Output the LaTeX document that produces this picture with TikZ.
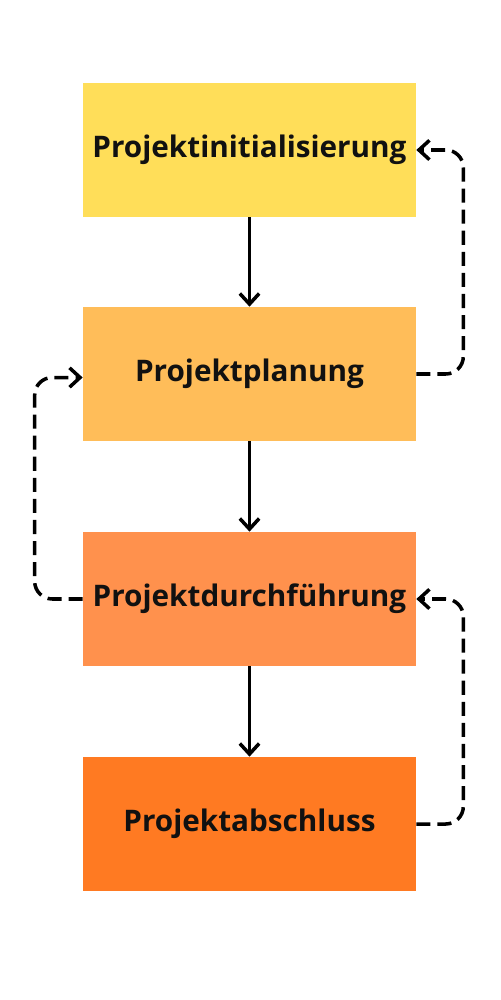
\documentclass[tikz,border=0pt]{standalone}
\usepackage{fontspec}
\setmainfont{Open Sans}
\usepackage{tikz}
\usetikzlibrary{arrows.meta}
\usepackage{xcolor}

\definecolor{phase1}{HTML}{FFDE59}
\definecolor{phase2}{HTML}{FFBD59}
\definecolor{phase3}{HTML}{FF914D}
\definecolor{phase4}{HTML}{FF7A22}
\definecolor{ink}{HTML}{111111}

\begin{document}
\begin{tikzpicture}[x=0.02cm, y=-0.02cm,
    phase/.style={rectangle, inner sep=0pt, minimum width=6.66cm, minimum height=2.68cm,
        font=\bfseries\fontsize{16.9}{19}\selectfont, text=ink},
    flow/.style={line width=2pt, -{Straight Barb[length=6pt, width=11pt, line width=2pt]}},
    back/.style={flow, dash pattern=on 8pt off 4pt, rounded corners=10pt}]

        % page frame
        \useasboundingbox[fill=white] (0,0) rectangle (500,1000);

        % the four phases, top to bottom
        \node[phase, fill=phase1] (init) at (249.5,150) {Projektinitialisierung};
        \node[phase, fill=phase2] (plan) at (249.5,374) {Projektplanung};
        \node[phase, fill=phase3] (exec) at (249.5,599) {Projektdurchführung};
        \node[phase, fill=phase4] (close) at (249.5,824) {Projektabschluss};

        % main flow
        \draw[flow] (init) -- (plan);
        \draw[flow] (plan) -- (exec);
        \draw[flow] (exec) -- (close);

        % feedback loops
        \draw[back] (plan.east) -- ++(47,0) |- (init.east);
        \draw[back] (exec.west) -- ++(-48,0) |- ([yshift=-2]plan.west);
        \draw[back] (close.east) -- ++(47,0) |- (exec.east);

    \end{tikzpicture}
\end{document}
